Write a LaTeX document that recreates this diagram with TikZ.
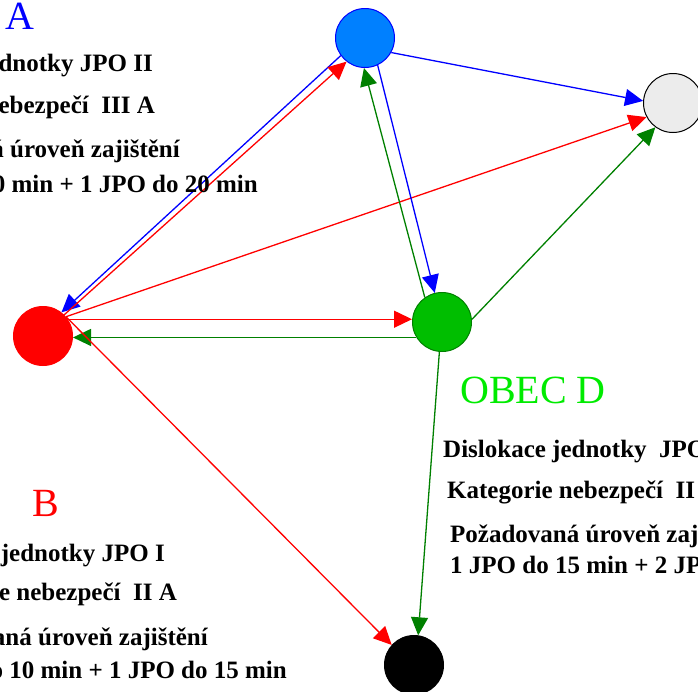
\documentclass[tikz,border=0pt]{standalone}
\usepackage{fontspec}
\setmainfont{Liberation Serif}
\usetikzlibrary{arrows.meta}
\definecolor{modra}{RGB}{0,128,255}
\definecolor{seda}{RGB}{236,236,236}
\definecolor{zelena}{RGB}{0,128,0}
\definecolor{zelenavypln}{RGB}{0,190,0}
\definecolor{svetlezelena}{RGB}{0,235,0}
\begin{document}
\begin{tikzpicture}[x=1pt,y=-1pt,
    obec/.style={circle,draw,line width=1pt,minimum size=59pt,inner sep=0pt},
    spoj/.style={line width=1.3pt,-{Triangle[length=18pt,width=17pt]}},
    popis/.style={font=\bfseries\fontsize{25}{25}\selectfont,inner sep=0pt},
    nazev/.style={font=\fontsize{40}{40}\selectfont,inner sep=0pt,anchor=base west}]
    \useasboundingbox (0,0) rectangle (698,691);
    \node[obec,draw=blue,fill=modra] (obecA) at (365,38) {};
    \node[obec,draw=red,fill=red] (obecB) at (43,336) {};
    \node[obec,draw=black,fill=seda] (obecC) at (673,103) {};
    \node[obec,draw=zelena,fill=zelenavypln] (obecD) at (442,322) {};
    \node[obec,draw=black,fill=black] (obecE) at (414,665) {};

    \draw[spoj,blue] (obecA.216) -- (obecB.52);
    \draw[spoj,red] (obecB.45) -- (obecA.232);
    \draw[spoj,blue] (obecA.-29) -- (obecC.176);
    \draw[spoj,red] (obecB.40) -- (obecC.208);
    \draw[spoj,zelena] (obecD.5) -- (obecC.234);
    \draw[spoj,blue] (obecA.295) -- (obecD.104);
    \draw[spoj,zelena] (obecD.125) -- (obecA.268);
    \draw[spoj,red] (obecB.34) -- (obecB.34 -| obecD.west);
    \draw[spoj,zelena] (obecD.211) -- (obecD.211 -| obecB.east);
    \draw[spoj,red] (obecB.40) -- (obecE.138);
    \draw[spoj,zelena] (obecD.265) -- (obecE.82);

    \node[nazev,text=blue] (nazevA) at (5,29) {A};
    \node[popis,anchor=base east] (popisA1) at (153,71) {Dislokace jednotky JPO II};
    \node[popis,anchor=base east] (popisA2) at (155,113) {Kategorie nebezpečí~~III A};
    \node[popis,anchor=base east] (popisA3) at (180,157) {Požadovaná úroveň zajištění};
    \node[popis,anchor=base east] (popisA4) at (258,192) {1 JPO do 10 min + 1 JPO do 20 min};

    \node[nazev,text=red] (nazevB) at (32,516) {B};
    \node[popis,anchor=base east] (popisB1) at (165,561) {Dislokace jednotky JPO I};
    \node[popis,anchor=base east] (popisB2) at (177,600) {Kategorie nebezpečí~~II A};
    \node[popis,anchor=base east] (popisB3) at (208,645) {Požadovaná úroveň zajištění};
    \node[popis,anchor=base east] (popisB4) at (287,678) {1 JPO do 10 min + 1 JPO do 15 min};

    \node[nazev,text=svetlezelena] (nazevD) at (460,403) {OBEC D};
    \node[popis,anchor=base west] (popisD1) at (443,457) {Dislokace jednotky~~JPO II};
    \node[popis,anchor=base west] (popisD2) at (447,498) {Kategorie nebezpečí~~II A};
    \node[popis,anchor=base west] (popisD3) at (450,542) {Požadovaná úroveň zajištění};
    \node[popis,anchor=base west] (popisD4) at (450,573) {1 JPO do 15 min + 2 JPO do 20 min};
\end{tikzpicture}
\end{document}
